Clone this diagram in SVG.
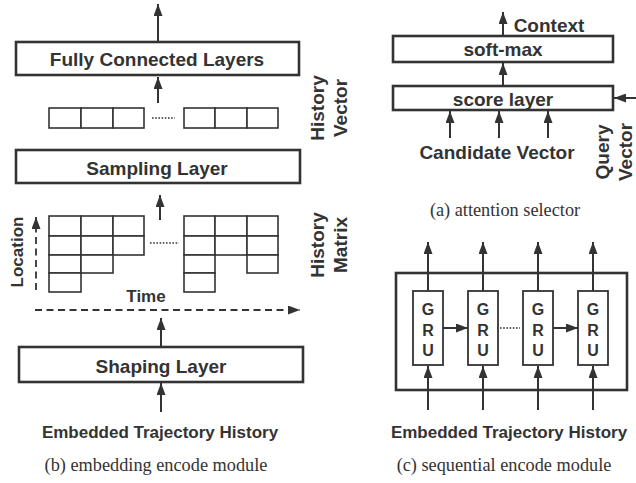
<svg xmlns="http://www.w3.org/2000/svg" width="636" height="483" viewBox="0 0 636 483">
<style>
.bx{fill:#fff;stroke:#333;stroke-width:2.6}
.frame{fill:none;stroke:#333;stroke-width:2.6}
.cell{fill:#fff;stroke:#333;stroke-width:1.6}
.gru{fill:#fff;stroke:#333;stroke-width:1.8}
.ln{stroke:#333;stroke-width:2;fill:none}
.dash{stroke:#333;stroke-width:1.8;fill:none;stroke-dasharray:7 4.5}
.dot{stroke:#333;stroke-width:1.3;fill:none;stroke-dasharray:1.6 1.6}
.t{font-family:"Liberation Sans",Arial,sans-serif;font-weight:bold;fill:#333;text-anchor:middle}
.L{font-size:19px}
.M{font-size:17px}
.G{font-size:16px}
.cap{font-family:"Liberation Serif","Times New Roman",serif;font-size:18.3px;fill:#333;text-anchor:middle}
</style>
<defs>
<marker id="ah" markerUnits="userSpaceOnUse" markerWidth="12" markerHeight="9" refX="12" refY="4.5" orient="auto">
<path d="M0,0 L12,4.5 L0,9 z" fill="#333"/>
</marker>
</defs>

<g id="sequential-encoder">
<rect class="frame" x="396" y="273" width="231" height="117"/>
</g>

<g id="connectors">
<line class="ln" x1="158" y1="41" x2="158" y2="4" marker-end="url(#ah)"/>
<line class="ln" x1="158" y1="103" x2="158" y2="77" marker-end="url(#ah)"/>
<line class="ln" x1="160" y1="220" x2="160" y2="195" marker-end="url(#ah)"/>
<line class="dash" x1="36" y1="290" x2="36" y2="217" marker-end="url(#ah)"/>
<line class="dash" x1="35" y1="310" x2="300" y2="310" marker-end="url(#ah)"/>
<line class="ln" x1="161" y1="346" x2="161" y2="318" marker-end="url(#ah)"/>
<line class="ln" x1="161" y1="412" x2="161" y2="383" marker-end="url(#ah)"/>
<line class="ln" x1="503" y1="36" x2="503" y2="12" marker-end="url(#ah)"/>
<line class="ln" x1="503" y1="86" x2="503" y2="63" marker-end="url(#ah)"/>
<line class="ln" x1="450" y1="138" x2="450" y2="111" marker-end="url(#ah)"/>
<line class="ln" x1="499" y1="138" x2="499" y2="111" marker-end="url(#ah)"/>
<line class="ln" x1="548" y1="138" x2="548" y2="111" marker-end="url(#ah)"/>
<line class="ln" x1="636" y1="98" x2="614" y2="98" marker-end="url(#ah)"/>
<line class="ln" x1="428" y1="291" x2="428" y2="242" marker-end="url(#ah)"/>
<line class="ln" x1="483" y1="291" x2="483" y2="242" marker-end="url(#ah)"/>
<line class="ln" x1="538" y1="291" x2="538" y2="242" marker-end="url(#ah)"/>
<line class="ln" x1="593" y1="291" x2="593" y2="242" marker-end="url(#ah)"/>
<line class="ln" x1="428" y1="410" x2="428" y2="366" marker-end="url(#ah)"/>
<line class="ln" x1="483" y1="410" x2="483" y2="366" marker-end="url(#ah)"/>
<line class="ln" x1="538" y1="410" x2="538" y2="366" marker-end="url(#ah)"/>
<line class="ln" x1="593" y1="410" x2="593" y2="366" marker-end="url(#ah)"/>
<line class="ln" x1="443" y1="328" x2="468" y2="328" marker-end="url(#ah)"/>
<line class="ln" x1="553" y1="328" x2="578" y2="328" marker-end="url(#ah)"/>
<line class="dot" x1="500" y1="328" x2="520" y2="328"/>
</g>

<g id="fc-layers">
<rect class="bx" x="16" y="42" width="283" height="33"/>
<text class="t L" x="157" y="66">Fully Connected Layers</text>
</g>

<g id="history-vector">
<rect class="cell" x="49" y="108" width="32" height="20"/>
<rect class="cell" x="81" y="108" width="32" height="20"/>
<rect class="cell" x="113" y="108" width="31" height="20"/>
<rect class="cell" x="184" y="108" width="31" height="20"/>
<rect class="cell" x="215" y="108" width="32" height="20"/>
<rect class="cell" x="247" y="108" width="31" height="20"/>
<line class="dot" x1="152" y1="118" x2="175" y2="118"/>
<text class="t L" transform="translate(324,108) rotate(-90)">History</text>
<text class="t L" transform="translate(347,108) rotate(-90)">Vector</text>
</g>

<g id="sampling-layer">
<rect class="bx" x="16" y="150" width="284" height="33"/>
<text class="t L" x="157" y="175">Sampling Layer</text>
</g>

<g id="history-matrix">
<rect class="cell" x="49" y="216" width="32" height="20"/>
<rect class="cell" x="81" y="216" width="32" height="20"/>
<rect class="cell" x="113" y="216" width="31" height="20"/>
<rect class="cell" x="49" y="236" width="32" height="19"/>
<rect class="cell" x="81" y="236" width="32" height="19"/>
<rect class="cell" x="113" y="236" width="31" height="19"/>
<rect class="cell" x="49" y="255" width="32" height="18"/>
<rect class="cell" x="81" y="255" width="32" height="18"/>
<rect class="cell" x="49" y="273" width="32" height="19"/>
<rect class="cell" x="184" y="216" width="31" height="20"/>
<rect class="cell" x="215" y="216" width="32" height="20"/>
<rect class="cell" x="247" y="216" width="31" height="20"/>
<rect class="cell" x="184" y="236" width="31" height="19"/>
<rect class="cell" x="215" y="236" width="32" height="19"/>
<rect class="cell" x="247" y="236" width="31" height="19"/>
<rect class="cell" x="184" y="255" width="31" height="18"/>
<rect class="cell" x="247" y="255" width="31" height="18"/>
<rect class="cell" x="184" y="273" width="31" height="19"/>
<line class="dot" x1="150" y1="243" x2="179" y2="243"/>
<text class="t M" transform="translate(23,252) rotate(-90)">Location</text>
<text class="t M" x="146" y="302">Time</text>
<text class="t L" transform="translate(324,245) rotate(-90)">History</text>
<text class="t L" transform="translate(347,245) rotate(-90)">Matrix</text>
</g>

<g id="shaping-layer">
<rect class="bx" x="19" y="347" width="284" height="35"/>
<text class="t L" x="161" y="373">Shaping Layer</text>
</g>

<g id="input-b">
<text class="t M" x="160" y="438">Embedded Trajectory History</text>
<text class="cap" x="156" y="471">(b) embedding encode module</text>
</g>

<g id="softmax">
<rect class="bx" x="393" y="36" width="220" height="26"/>
<text class="t L" x="503" y="56">soft-max</text>
<text class="t L" x="549" y="32">Context</text>
</g>

<g id="score-layer">
<rect class="bx" x="393" y="86" width="220" height="24"/>
<text class="t L" x="503" y="106">score layer</text>
<text class="t L" x="497" y="159">Candidate Vector</text>
<text class="t L" transform="translate(609,152) rotate(-90)">Query</text>
<text class="t L" transform="translate(632,152) rotate(-90)">Vector</text>
<text class="cap" x="505" y="216">(a) attention selector</text>
</g>

<g id="gru1">
<rect class="gru" x="413" y="291" width="30" height="74"/>
<text class="t G" x="428" y="315">G</text><text class="t G" x="428" y="336">R</text><text class="t G" x="428" y="356">U</text>
</g>
<g id="gru2">
<rect class="gru" x="468" y="291" width="30" height="74"/>
<text class="t G" x="483" y="315">G</text><text class="t G" x="483" y="336">R</text><text class="t G" x="483" y="356">U</text>
</g>
<g id="gru3">
<rect class="gru" x="523" y="291" width="30" height="74"/>
<text class="t G" x="538" y="315">G</text><text class="t G" x="538" y="336">R</text><text class="t G" x="538" y="356">U</text>
</g>
<g id="gru4">
<rect class="gru" x="578" y="291" width="30" height="74"/>
<text class="t G" x="593" y="315">G</text><text class="t G" x="593" y="336">R</text><text class="t G" x="593" y="356">U</text>
</g>
<g id="input-c">
<text class="t M" x="509" y="438">Embedded Trajectory History</text>
<text class="cap" x="504" y="471">(c) sequential encode module</text>
</g>
</svg>
